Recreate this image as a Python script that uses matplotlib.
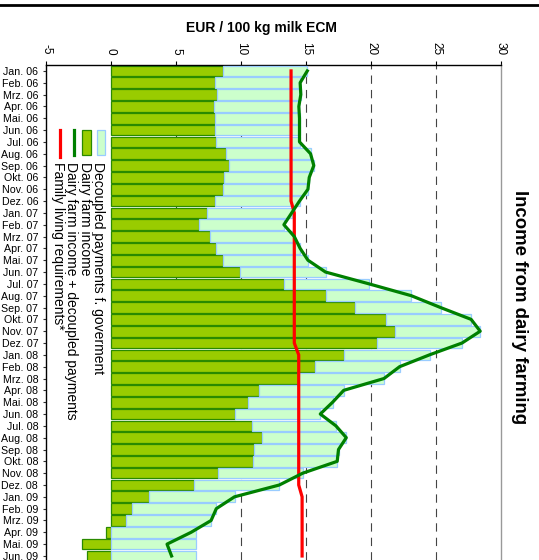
import matplotlib
matplotlib.use("Agg")
import matplotlib.pyplot as plt
from matplotlib.lines import Line2D
from matplotlib.patches import Rectangle
import numpy as np

# ---------------- data ----------------
months = ["Jan. 06", "Feb. 06", "Mrz. 06", "Apr. 06", "Mai. 06", "Jun. 06",
          "Jul. 06", "Aug. 06", "Sep. 06", "Okt. 06", "Nov. 06", "Dez. 06",
          "Jan. 07", "Feb. 07", "Mrz. 07", "Apr. 07", "Mai. 07", "Jun. 07",
          "Jul. 07", "Aug. 07", "Sep. 07", "Okt. 07", "Nov. 07", "Dez. 07",
          "Jan. 08", "Feb. 08", "Mrz. 08", "Apr. 08", "Mai. 08", "Jun. 08",
          "Jul. 08", "Aug. 08", "Sep. 08", "Okt. 08", "Nov. 08", "Dez. 08",
          "Jan. 09", "Feb. 09", "Mrz. 09", "Apr. 09", "Mai. 09", "Jun. 09"]

dairy_income = [8.59, 8.00, 8.13, 7.92, 8.00, 8.00, 8.05, 8.87, 9.08, 8.69, 8.64, 8.03,
                7.41, 6.80, 7.64, 8.10, 8.64, 9.95, 13.33, 16.54, 18.80, 21.15, 21.87, 20.46,
                17.93, 15.70, 14.40, 11.36, 10.54, 9.56, 10.85, 11.60, 11.03, 10.90, 8.26, 6.40,
                2.95, 1.60, 1.18, -0.38, -2.23, -1.88]

decoupled_payments = [6.51, 6.55, 6.47, 6.53, 6.50, 6.50, 6.45, 6.48, 6.52, 6.56, 6.51, 6.47,
                      6.49, 6.50, 6.46, 6.45, 6.51, 6.55, 6.52, 6.56, 6.55, 6.55, 6.53, 6.54,
                      6.57, 6.50, 6.60, 6.54, 6.51, 6.54, 6.45, 6.50, 6.47, 6.50, 6.49, 6.55,
                      6.55, 6.50, 6.52, 6.54, 6.54, 6.54]

family_living = [13.85] * 12 + [14.1] * 12 + [14.44] * 12 + [14.7] * 6

xtick_values = [-5, 0, 5, 10, 15, 20, 25, 30]
xtick_labels = ["-5", "0", "5", "10", "15", "20", "25", "30"]

legend_labels = ["Family living requirements*",
                 "Dairy farm income + decoupled payments",
                 "Dairy farm income",
                 "Decoupled payments f. goverment"]

# ---------------- style ----------------
plt.rcParams["font.family"] = ["Liberation Sans", "DejaVu Sans"]
W, H = 539, 560
DAIRY_FACE = "#99CC00"
DAIRY_EDGE = "#2A8A00"
DEC_FACE = "#CCFFCC"
DEC_EDGE = "#99CCFF"
LINE_GREEN = "#008000"
LINE_RED = "#FF0000"


def fx(px):
    return px / W


def fy(py):
    return 1 - py / H


fig = plt.figure(figsize=(W / 100, H / 100), dpi=100)
ax = fig.add_axes([fx(46), 0, 455 / W, (H - 65) / H])

y = np.arange(len(months))
dairy = np.array(dairy_income)
dec = np.array(decoupled_payments)

ax.barh(y, dairy, height=0.9, color=DAIRY_FACE, edgecolor=DAIRY_EDGE, lw=0.9, zorder=2)
ax.barh(y, dec, left=np.maximum(dairy, 0), height=0.9, color=DEC_FACE,
        edgecolor=DEC_EDGE, lw=0.9, zorder=3)
ax.plot(family_living, y, color=LINE_RED, lw=2.3, zorder=4, solid_joinstyle="miter")
ax.plot(dairy + dec, y, color=LINE_GREEN, lw=2.3, zorder=5)

for v in [5, 10, 15, 20, 25]:
    ax.axvline(v, color="#444444", lw=0.8, ls=(0, (7.5, 5.5)), zorder=1)

ax.set_xlim(-5, 30)
ax.set_ylim(41.34, -0.5)
ax.xaxis.tick_top()
ax.set_xticks(xtick_values)
ax.set_xticklabels(xtick_labels, rotation=-90, fontsize=8.5)
ax.tick_params(axis="x", length=2.7, width=0.8, pad=4.5, color="black")
ax.set_yticks(y)
ax.set_yticklabels(months, fontsize=7.7)
ax.tick_params(axis="y", length=2.2, width=0.8, pad=3.4, color="#333333")

ax.spines["bottom"].set_visible(False)
ax.spines["left"].set_color("black")
ax.spines["left"].set_linewidth(1.0)
ax.spines["top"].set_color("black")
ax.spines["top"].set_linewidth(1.0)
ax.spines["right"].set_color("#999999")
ax.spines["right"].set_linewidth(1.0)

# top rule
fig.add_artist(Line2D([0, 1], [fy(5.3), fy(5.3)], transform=fig.transFigure,
                      color="black", lw=2.0))

# titles
fig.text(fx(261.5), fy(28), "EUR / 100 kg milk ECM", ha="center", va="center",
         fontsize=10, fontweight="bold")
fig.text(fx(519.5), fy(307), "Income from dairy farming", rotation=-90,
         ha="center", va="center", fontsize=13.4, fontweight="bold")

# legend (rotated)
fig.add_artist(Line2D([fx(60), fx(60)], [fy(130), fy(157)], transform=fig.transFigure,
                      color=LINE_RED, lw=2.3))
fig.add_artist(Line2D([fx(74), fx(74)], [fy(130), fy(155)], transform=fig.transFigure,
                      color=LINE_GREEN, lw=2.3))
fig.add_artist(Rectangle((fx(82), fy(155)), 9 / W, 25 / H, transform=fig.transFigure,
                         facecolor=DAIRY_FACE, edgecolor=DAIRY_EDGE, lw=0.9))
fig.add_artist(Rectangle((fx(97), fy(155)), 8 / W, 25 / H, transform=fig.transFigure,
                         facecolor=DEC_FACE, edgecolor=DEC_EDGE, lw=0.9))
for xc, lab in zip([57.5, 71, 84.5, 98], legend_labels):
    fig.text(fx(xc), fy(162), lab, rotation=-90, ha="center", va="top", fontsize=10)

fig.savefig("out.png", dpi=100)
